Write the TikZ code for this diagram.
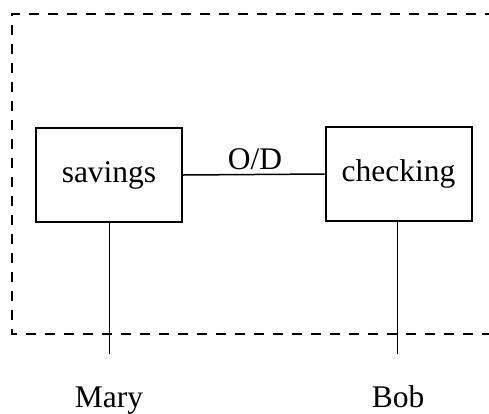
\documentclass[tikz,border=0pt]{standalone}
\usepackage{fontspec}
\setmainfont{Liberation Serif}
\begin{document}
\begin{tikzpicture}[x=1pt,y=-1pt,
  acct/.style={draw, line width=2pt, minimum width=146pt, minimum height=94pt, inner sep=0pt, font=\fontsize{31.5}{36}\selectfont},
  lbl/.style={inner sep=0pt, anchor=base, font=\fontsize{31.5}{36}\selectfont},
  conn/.style={line width=1.5pt},
  bound/.style={line width=2.4pt, dash pattern=on 10pt off 9pt}]
\useasboundingbox (0,0) rectangle (489,413);
\draw[bound] (495,14) -- (12,14) -- (12,334) -- (495,334);
\node[acct] (sav) at (109,175) {savings};
\node[acct] (chk) at (398.5,174) {checking};
\draw[conn] (sav.east) -- (chk.west);
\node[lbl] (od) at (255,169) {O/D};
\coordinate (m) at (109.5,354);
\coordinate (b) at (397.5,354);
\draw[conn] (sav.south -| m) -- (m);
\draw[conn] (chk.south -| b) -- (b);
\node[lbl] (mary) at (109,407) {Mary};
\node[lbl] (bob) at (398,407) {Bob};
\end{tikzpicture}
\end{document}
